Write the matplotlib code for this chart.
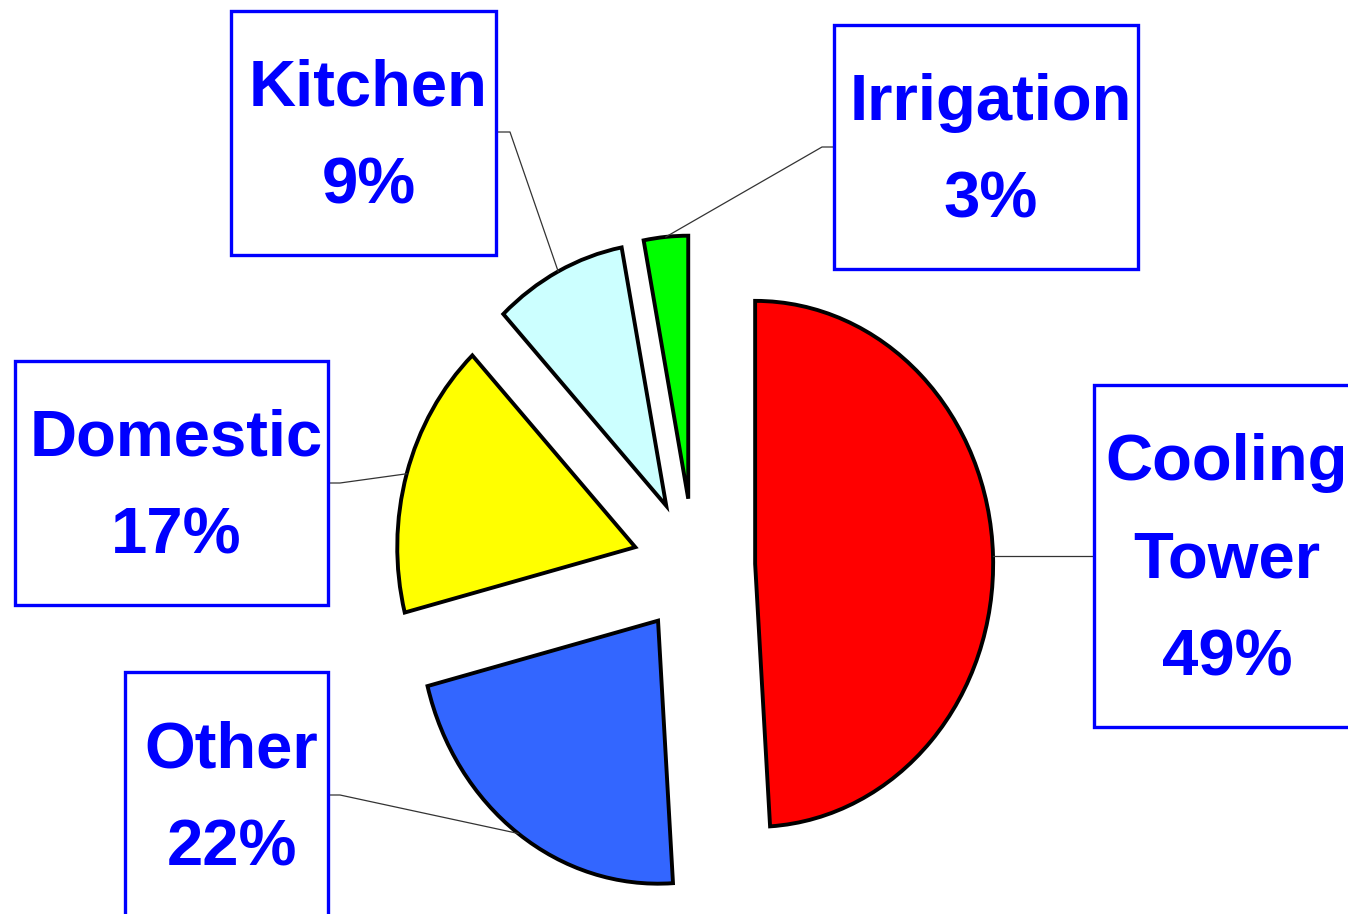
import matplotlib
matplotlib.use("Agg")
import matplotlib.pyplot as plt
from matplotlib.patches import Rectangle
import numpy as np

# ---- data ----
categories = ["Cooling\nTower", "Other", "Domestic", "Kitchen", "Irrigation"]
values = [49, 22, 17, 9, 3]
colors = ["#FF0000", "#3366FF", "#FFFF00", "#CCFFFF", "#00FF00"]
pct_labels = ["49%", "22%", "17%", "9%", "3%"]

# ---- layout (pixels) ----
W, H = 1348, 914
CX, CY = 694, 566          # pie centre in px
RX, RY = 238, 263          # pie radii in px (chart is stretched)
explode_frac = 0.257

# boxes: (left, top, right, bottom) in px
boxes = [
    (1094, 385, 1352, 727),   # Cooling Tower
    (125, 672, 328, 918),     # Other
    (15, 361, 328, 605),      # Domestic
    (231, 11, 496, 255),      # Kitchen
    (834, 25, 1138, 269),     # Irrigation
]
# elbow points of leader lines (px); None = straight
elbows = [None, (340, 795), (340, 483), (510, 132), (822, 147)]
box_side = ["left", "right", "right", "right", "left"]

def px(x, y):
    return ((x - CX) / RX, (CY - y) / RY)

fig = plt.figure(figsize=(W / 100, H / 100), dpi=100)
ax = fig.add_axes([0, 0, 1, 1])

wedges, _ = ax.pie(values, colors=colors, startangle=90, counterclock=False,
                   explode=[explode_frac] * len(values),
                   wedgeprops=dict(edgecolor="black", linewidth=2.8,
                                   joinstyle="miter"))
ax.set_aspect("auto")
x0, y0 = px(0, H)
x1, y1 = px(W, 0)
ax.set_xlim(x0, x1)
ax.set_ylim(y0, y1)
ax.axis("off")

LINE_PX = 98
CAP_PX = 50
for i, (w, cat, pct) in enumerate(zip(wedges, categories, pct_labels)):
    l, t, r, b = boxes[i]
    # box
    bl = px(l, b)
    tr = px(r, t)
    ax.add_patch(Rectangle(bl, tr[0] - bl[0], tr[1] - bl[1], fill=True,
                           facecolor="white", edgecolor="#0000FF",
                           linewidth=2.4, zorder=3, clip_on=False))
    # text lines
    lines = cat.split("\n") + [pct]
    n = len(lines)
    cyb = (t + b) / 2 - 3
    block = CAP_PX + (n - 1) * LINE_PX
    top_cap = cyb - block / 2
    cxb = (l + min(r, 1350)) / 2 + 5
    for k, s in enumerate(lines):
        base = top_cap + CAP_PX + k * LINE_PX
        ax.text(*px(cxb, base), s, ha="center", va="baseline",
                fontsize=47, fontweight="bold", color="#0000FF",
                family=["Liberation Sans", "DejaVu Sans"], zorder=4)
    # leader line from wedge arc midpoint
    mid = np.deg2rad((w.theta1 + w.theta2) / 2)
    sx = w.center[0] + w.r * np.cos(mid)
    sy = w.center[1] + w.r * np.sin(mid)
    ey_px = elbows[i][1] if elbows[i] else CY - sy * RY
    edge_x = l if box_side[i] == "left" else r
    pts = [(sx, sy)]
    if elbows[i]:
        pts.append(px(*elbows[i]))
    pts.append(px(edge_x, ey_px))
    xs, ys = zip(*pts)
    ax.plot(xs, ys, color="#333333", linewidth=0.9, zorder=2)

fig.savefig("out.png", dpi=100)
